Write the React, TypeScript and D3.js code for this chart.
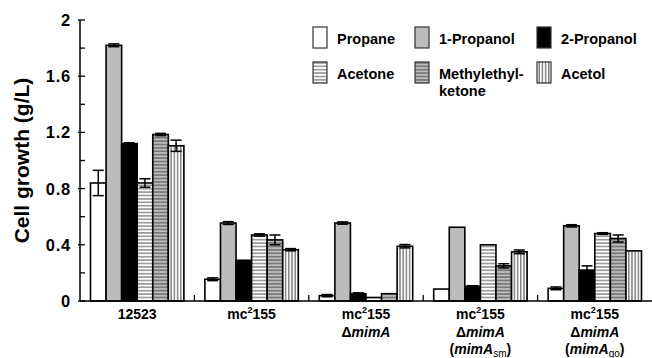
import React from "react";
import * as d3 from "d3";

// Strains (x groups) and solvents (series)
const strains = ["12523", "mc2155", "dmimA", "dmimA_sm", "dmimA_go"];
const solvents = ["Propane", "1-Propanol", "2-Propanol", "Acetone", "Methylethylketone", "Acetol"];

// Mean cell growth (g/L), one row per strain, columns follow `solvents`
const propane = [0.84, 0.155, 0.038, 0.085, 0.09];
const propanol1 = [1.82, 0.555, 0.555, 0.525, 0.535];
const propanol2 = [1.12, 0.29, 0.052, 0.105, 0.22];
const acetone = [0.84, 0.47, 0.025, 0.4, 0.48];
const mek = [1.185, 0.435, 0.052, 0.25, 0.445];
const acetol = [1.105, 0.365, 0.39, 0.35, 0.357];

// Standard deviations, same layout
const propaneErr = [0.09, 0.01, 0.008, 0, 0.01];
const propanol1Err = [0.01, 0.01, 0.008, 0, 0.008];
const propanol2Err = [0.006, 0, 0.006, 0.004, 0.03];
const acetoneErr = [0.03, 0.008, 0, 0, 0.006];
const mekErr = [0.008, 0.035, 0, 0.015, 0.025];
const acetolErr = [0.04, 0.008, 0.012, 0.013, 0];

const seriesValues = [propane, propanol1, propanol2, acetone, mek, acetol];
const seriesErrors = [propaneErr, propanol1Err, propanol2Err, acetoneErr, mekErr, acetolErr];

const yTicks = [0, 0.4, 0.8, 1.2, 1.6, 2];
const yMinorTicks = [0.2, 0.6, 1.0, 1.4, 1.8];

const FONT = "'Liberation Sans', Arial, Helvetica, sans-serif";
const W = 652;
const H = 358;

const fills = ["#ffffff", "#bcbcbc", "#000000", "url(#pAcetone)", "url(#pMek)", "url(#pAcetol)"];

function StrainLabel({ id, x }: { id: string; x: number }) {
  const line1 = (
    <text x={x} y={319} textAnchor="middle" fontSize={14} fontWeight="bold" fontFamily={FONT}>
      {id === "12523" ? (
        "12523"
      ) : (
        <>
          mc<tspan fontSize={9} dy={-6}>2</tspan>
          <tspan dy={6}>155</tspan>
        </>
      )}
    </text>
  );
  const hasDelta = id.startsWith("dmimA");
  const sub = id === "dmimA_sm" ? "sm" : id === "dmimA_go" ? "go" : null;
  return (
    <g>
      {line1}
      {hasDelta && (
        <text x={x} y={337} textAnchor="middle" fontSize={14} fontWeight="bold" fontFamily={FONT}>
          Δ<tspan fontStyle="italic">mimA</tspan>
        </text>
      )}
      {sub && (
        <text x={x} y={354} textAnchor="middle" fontSize={14} fontWeight="bold" fontFamily={FONT}>
          (<tspan fontStyle="italic">mimA</tspan>
          <tspan fontSize={10} dy={3} fontWeight="normal">{sub}</tspan>
          <tspan dy={-3}>)</tspan>
        </text>
      )}
    </g>
  );
}

export default function App() {
  const x0 = 80;
  const x1 = 652;
  const y = d3.scaleLinear().domain([0, 2]).range([301, 20]);
  const gx = d3.scaleBand<string>().domain(strains).range([x0, x1]).padding(0);
  const bw = gx.bandwidth();
  const sx = d3
    .scaleBand<string>()
    .domain(solvents)
    .range([10.5, bw - 10.5])
    .padding(0);
  const barW = sx.bandwidth();

  const legendCols = [313, 415, 537];
  const legendRows = [27, 62];

  return (
    <svg
      width={W}
      height={H}
      viewBox={`0 0 ${W} ${H}`}
      style={{ position: "absolute", left: 0, top: 0, background: "#fff" }}
    >
      <defs>
        <pattern id="pAcetone" patternUnits="userSpaceOnUse" width={8} height={3.4}>
          <rect width={8} height={3.4} fill="#fff" />
          <line x1={0} x2={8} y1={1.7} y2={1.7} stroke="#555" strokeWidth={1} />
        </pattern>
        <pattern id="pMek" patternUnits="userSpaceOnUse" width={8} height={3.4}>
          <rect width={8} height={3.4} fill="#bdbdbd" />
          <line x1={0} x2={8} y1={1.7} y2={1.7} stroke="#4a4a4a" strokeWidth={1} />
        </pattern>
        <pattern id="pAcetol" patternUnits="userSpaceOnUse" width={3.2} height={8}>
          <rect width={3.2} height={8} fill="#fff" />
          <line x1={1.6} x2={1.6} y1={0} y2={8} stroke="#444" strokeWidth={1} />
        </pattern>
      </defs>

      {/* y axis */}
      <line x1={x0} x2={x0} y1={y(2)} y2={y(0)} stroke="#000" strokeWidth={1.5} />
      {yTicks.map((t) => (
        <g key={"t" + t}>
          <line x1={x0 - 2} x2={x0 + 5} y1={y(t)} y2={y(t)} stroke="#000" strokeWidth={1.3} />
          <text
            x={71}
            y={y(t)}
            dy="0.36em"
            textAnchor="end"
            fontSize={16.5}
            fontWeight="bold"
            fontFamily={FONT}
            letterSpacing={0.8}
          >
            {t === 0 ? "0" : d3.format("~g")(t)}
          </text>
        </g>
      ))}
      {yMinorTicks.map((t) => (
        <line key={"m" + t} x1={x0} x2={x0 + 5} y1={y(t)} y2={y(t)} stroke="#000" strokeWidth={1.3} />
      ))}
      <text
        transform={`translate(29, ${y(1)}) rotate(-90)`}
        textAnchor="middle"
        fontSize={21}
        fontWeight="bold"
        fontFamily={FONT}
      >
        Cell growth (g/L)
      </text>

      {/* bars */}
      {strains.map((s, gi) => (
        <g key={s} transform={`translate(${gx(s)},0)`}>
          {solvents.map((sv, si) => {
            const v = seriesValues[si][gi];
            const e = seriesErrors[si][gi];
            const bx = sx(sv) as number;
            const cx = bx + barW / 2;
            return (
              <g key={sv}>
                <rect
                  x={bx}
                  y={y(v)}
                  width={barW}
                  height={y(0) - y(v)}
                  fill={fills[si]}
                  stroke="#000"
                  strokeWidth={1.6}
                />
                {e > 0 && (
                  <g stroke="#000" strokeWidth={1.5}>
                    <line x1={cx} x2={cx} y1={y(v + e)} y2={y(v - e)} />
                    <line x1={cx - 5.5} x2={cx + 5.5} y1={y(v + e)} y2={y(v + e)} />
                    <line x1={cx - 5.5} x2={cx + 5.5} y1={y(v - e)} y2={y(v - e)} />
                  </g>
                )}
              </g>
            );
          })}
        </g>
      ))}

      {/* x axis */}
      <line x1={x0} x2={x1} y1={y(0)} y2={y(0)} stroke="#000" strokeWidth={1.5} />
      {strains.slice(1).map((s) => (
        <line
          key={"gt" + s}
          x1={gx(s) as number}
          x2={gx(s) as number}
          y1={y(0)}
          y2={y(0) - 6}
          stroke="#000"
          strokeWidth={1.3}
        />
      ))}
      {strains.map((s) => (
        <StrainLabel key={"l" + s} id={s} x={(gx(s) as number) + bw / 2} />
      ))}

      {/* legend */}
      {solvents.map((sv, i) => {
        const col = legendCols[i % 3];
        const row = legendRows[Math.floor(i / 3)];
        const label = sv === "Methylethylketone" ? ["Methylethyl-", "ketone"] : [sv];
        return (
          <g key={"lg" + sv}>
            <rect x={col} y={row} width={14} height={21} fill={fills[i]} stroke="#333" strokeWidth={1.2} />
            <text x={col + 24} y={row + 17} fontSize={14.5} fontWeight="bold" fontFamily={FONT}>
              {label.map((ln, k) => (
                <tspan key={k} x={col + 24} dy={k === 0 ? 0 : 17}>
                  {ln}
                </tspan>
              ))}
            </text>
          </g>
        );
      })}
    </svg>
  );
}
